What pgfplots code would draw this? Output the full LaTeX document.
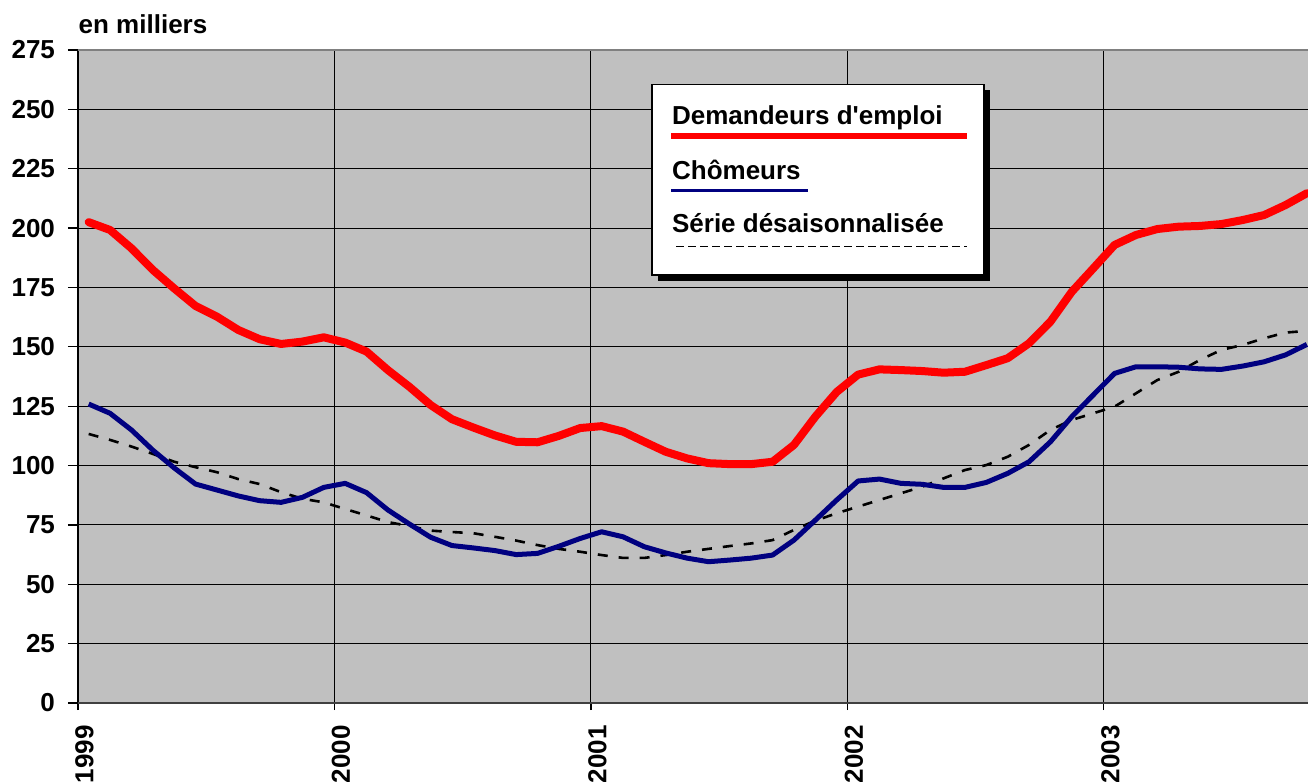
\documentclass[border=0pt]{standalone}
\usepackage{fontspec}
\setmainfont{Liberation Sans}
\newfontfamily\lsans{Liberation Sans}
\usepackage{pgfplots}
\usepackage{pgfplotstable}
\pgfplotsset{compat=1.18}
\definecolor{bggray}{RGB}{192,192,192}
\definecolor{navyblue}{RGB}{0,0,128}

\pgfplotstableread{
m red blue sa
0 202.5 125.9 113.3
1 199.2 122.0 110.8
2 191.5 115.0 108.0
3 182.4 106.5 104.9
4 174.6 99.0 101.6
5 167.2 92.2 99.3
6 162.7 89.7 97.2
7 157.1 87.2 94.3
8 153.2 85.2 92.2
9 151.2 84.5 88.8
10 152.2 86.6 86.0
11 154.0 90.8 84.5
12 151.8 92.5 81.7
13 148.0 88.6 79.0
14 140.2 81.3 76.2
15 133.2 75.4 74.5
16 125.5 69.8 72.6
17 119.5 66.3 72.0
18 116.0 65.3 71.5
19 112.7 64.2 70.0
20 110.0 62.5 68.4
21 109.8 63.0 66.5
22 112.5 66.0 64.9
23 115.8 69.3 63.7
24 116.6 72.1 62.3
25 114.3 70.0 61.1
26 110.0 65.8 61.1
27 105.8 63.2 62.3
28 103.0 61.0 63.7
29 101.0 59.5 64.9
30 100.6 60.2 66.1
31 100.6 61.0 67.2
32 101.6 62.3 68.6
33 108.7 68.6 72.9
34 120.6 77.0 76.8
35 131.0 85.5 79.9
36 138.3 93.5 82.7
37 140.5 94.3 85.5
38 140.2 92.5 88.3
39 139.8 92.1 91.1
40 139.1 90.8 94.6
41 139.5 90.8 98.1
42 142.3 92.9 100.2
43 145.2 96.7 103.7
44 151.5 101.6 108.7
45 160.6 110.0 115.0
46 173.2 120.6 119.2
47 183.0 129.7 122.0
48 192.9 138.8 124.8
49 197.1 141.6 130.4
50 199.6 141.6 136.0
51 200.6 141.4 139.5
52 200.9 140.7 144.5
53 201.7 140.5 148.7
54 203.4 141.9 150.8
55 205.5 143.7 153.6
56 209.7 146.6 156.0
57 214.7 151.0 156.7
}\datatable

\begin{document}
\begin{tikzpicture}
\begin{axis}[
  at={(0,0)}, anchor=south west,
  scale only axis,
  width=615pt, height=326.5pt,
  xmin=0, xmax=57.55,
  ymin=0, ymax=275,
  xtick={0,12,24,36,48},
  xticklabels={1999,2000,2001,2002,2003},
  ytick={0,25,50,75,100,125,150,175,200,225,250,275},
  xtick pos=bottom, ytick pos=left,
  tick align=outside,
  major tick length=5pt,
  xtick style={/pgfplots/major tick length=3.5pt},
  tick style={black, line width=0.6pt},
  grid=major,
  major grid style={black, line width=0.5pt},
  axis line style={draw=none},
  axis background/.style={fill=bggray},
  tick label style={font=\fontsize{13}{15.6}\selectfont\bfseries},
  /pgf/number format/assume math mode=true,
  yticklabel shift=3pt,
  xticklabel shift=2.7pt,
  xticklabel style={xshift=3.25pt, rotate=90, anchor=east},
  clip=true,
]
\addplot[color=black, line width=1.3pt, dash pattern=on 5pt off 5.5pt] table[x expr=\thisrow{m}+0.5, y=sa] {\datatable};
\addplot[color=navyblue, line width=2.5pt, line join=round] table[x expr=\thisrow{m}+0.5, y=blue] {\datatable};
\addplot[color=red, line width=4pt, line join=round, line cap=round] table[x expr=\thisrow{m}+0.5, y=red] {\datatable};
\end{axis}
% axis frame lines
\draw[black, line width=0.75pt] (0,0) -- (0,326.5pt);
\draw[gray, line width=1.25pt] (0,326.5pt) -- (615pt,326.5pt);
\draw[black!75, line width=1pt] (0,0) -- (615pt,0);
% title
\node[anchor=base west, inner sep=0pt, font=\fontsize{13}{15.6}\selectfont\bfseries] at (0.15pt,334.85pt) {en milliers};
% legend box with shadow
\fill[black] (290pt,211pt) rectangle (456pt,306.35pt);
\draw[black, line width=0.75pt, fill=white] (287pt,214pt) rectangle (453pt,309.35pt);
\node[anchor=base west, inner sep=0pt, font=\lsans\fontsize{13}{15.6}\selectfont\bfseries] at (296.85pt,289pt) {Demandeurs d'emploi};
\draw[red, line width=2.85pt] (296.5pt,283.65pt) -- (444.5pt,283.65pt);
\node[anchor=base west, inner sep=0pt, font=\fontsize{13}{15.6}\selectfont\bfseries] at (296.85pt,261.85pt) {Chômeurs};
\draw[navyblue, line width=1.65pt] (296.5pt,256.15pt) -- (364.85pt,256.15pt);
\node[anchor=base west, inner sep=0pt, font=\fontsize{13}{15.6}\selectfont\bfseries] at (296.85pt,235.15pt) {Série désaisonnalisée};
\draw[black, line width=0.7pt, dash pattern=on 4pt off 2pt] (299pt,228.15pt) -- (444.5pt,228.15pt);
\pgfresetboundingbox
\path[use as bounding box] (-39pt,-39.5pt) rectangle (615pt,351.5pt);
\end{tikzpicture}
\end{document}
